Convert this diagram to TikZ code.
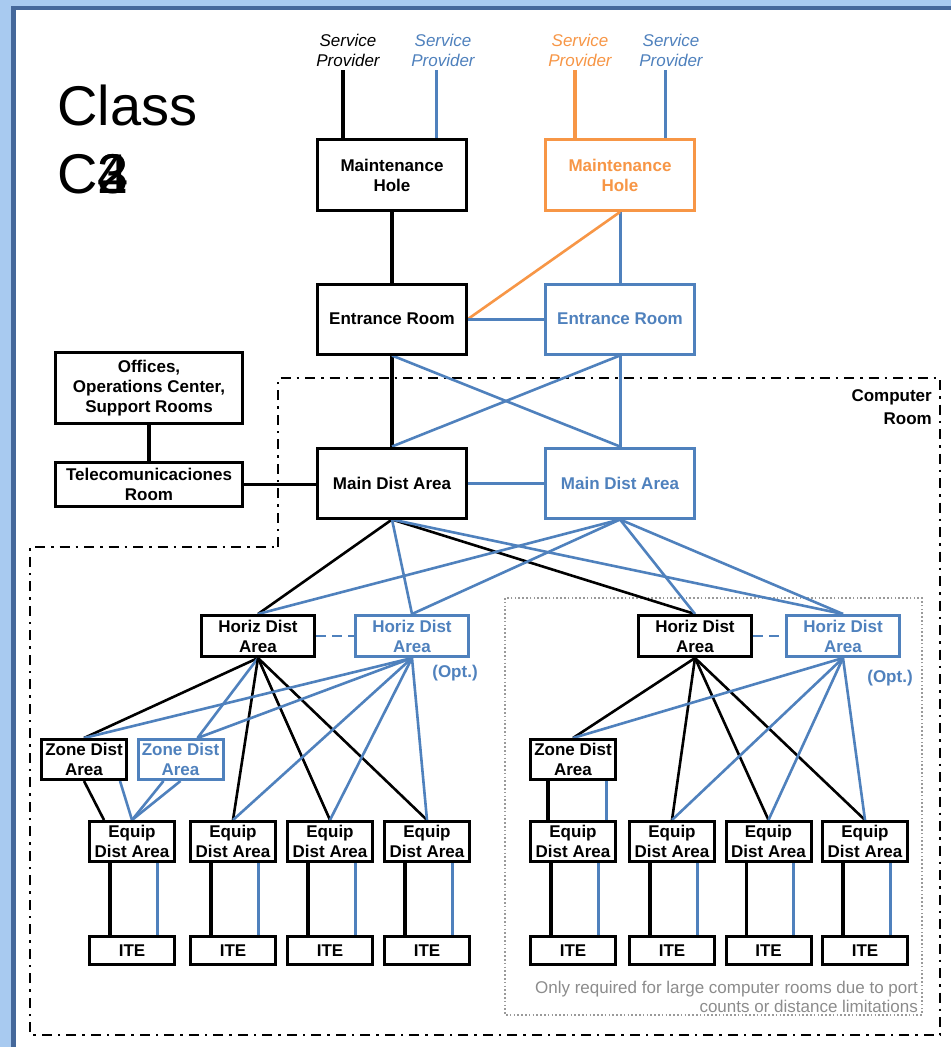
\documentclass[tikz,border=0pt]{standalone}
\usepackage{fontspec}
\setmainfont{Liberation Sans}
\usetikzlibrary{calc}
\definecolor{cblue}{HTML}{4F81BD}
\definecolor{corange}{HTML}{F79646}
\definecolor{fl}{HTML}{A8CAF0}
\definecolor{fd}{HTML}{45689B}
\definecolor{gtext}{HTML}{8C8C8C}
\definecolor{gline}{HTML}{9A9A9A}
\pgfdeclarelayer{bg}
\pgfsetlayers{bg,main}
\begin{document}
\begin{tikzpicture}[x=1pt,y=-1pt,
  box/.style={draw, line width=3pt, fill=white, font=\fontsize{17}{20}\selectfont\bfseries, align=center, inner sep=0pt},
  bbox/.style={box, draw=cblue, text=cblue},
  obox/.style={box, draw=corange, text=corange},
  big/.style={minimum width=149pt, minimum height=70pt},
  hda/.style={minimum width=113pt, minimum height=41pt},
  zda/.style={minimum width=85pt, minimum height=40pt},
  eda/.style={box, minimum width=85pt, minimum height=40pt},
  ite/.style={box, minimum width=85pt, minimum height=28pt},
  sp/.style={font=\fontsize{17}{20}\selectfont\itshape, align=center, inner sep=0pt},
  kl/.style={line width=2.6pt, black},
  bl/.style={line width=2.6pt, cblue},
  ol/.style={line width=2.6pt, corange},
  kv/.style={line width=3.2pt, black},
  bv/.style={line width=3pt, cblue},
  roomline/.style={line width=2.2pt, black, dash pattern=on 10pt off 6pt on 2.5pt off 6pt},
  optlbl/.style={font=\fontsize{17}{20}\selectfont\bfseries, text=cblue, inner sep=0pt}
]
\useasboundingbox (0,0) rectangle (951,1047);

% ---------- nodes ----------
\node[anchor=base west, font=\fontsize{56}{68}\selectfont, inner sep=0pt] (cls) at (57,125) {Class};
\node[anchor=base west, font=\fontsize{56}{68}\selectfont, inner sep=0pt] (cnum) at (57,193) {C\rlap{2}\rlap{3}4};

\node[sp] (sp1) at (348,50) {Service\\Provider};
\node[sp, text=cblue] (sp2) at (443,50) {Service\\Provider};
\node[sp, text=corange] (sp3) at (580,50) {Service\\Provider};
\node[sp, text=cblue] (sp4) at (671,50) {Service\\Provider};

\node[box, minimum width=149pt, minimum height=71pt] (mhB) at (392,175) {Maintenance\\Hole};
\node[obox, minimum width=149pt, minimum height=71pt] (mhO) at (620,175) {Maintenance\\Hole};
\node[box, big] (erB) at (392,319) {Entrance Room};
\node[bbox, big] (erL) at (620,319) {Entrance Room};
\node[box, big] (mdaB) at (392,483) {Main Dist Area};
\node[bbox, big] (mdaL) at (620,483) {Main Dist Area};

\node[box, minimum width=187pt, minimum height=71pt] (off) at (149,388) {Offices,\\Operations Center,\\Support Rooms};
\node[box, minimum width=187pt, minimum height=44pt] (tel) at (149,484.5) {Telecomunicaciones\\Room};

\node[font=\fontsize{17}{23}\selectfont\bfseries, align=right, anchor=north east, inner sep=0pt] (crl) at (932,389) {Computer\\Room};

\node[box, hda] (hdaB1) at (258,636) {Horiz Dist\\Area};
\node[bbox, hda] (hdaL1) at (412,636) {Horiz Dist\\Area};
\node[box, hda] (hdaB2) at (695,636) {Horiz Dist\\Area};
\node[bbox, hda] (hdaL2) at (843,636) {Horiz Dist\\Area};
\node[optlbl] (opt1) at (455,673) {(Opt.)};
\node[optlbl] (opt2) at (890,678) {(Opt.)};

\node[box, zda] (zdaB1) at (84,759.5) {Zone Dist\\Area};
\node[bbox, zda] (zdaL1) at (180.5,759.5) {Zone Dist\\Area};
\node[box, zda] (zdaB2) at (573,759.5) {Zone Dist\\Area};

\foreach \i/\x in {1/132,2/233,3/330,4/427,5/573,6/672,7/768.5,8/865}{
  \node[eda] (eda\i) at (\x,841.5) {Equip\\Dist Area};
  \node[ite] (ite\i) at (\x,950.5) {ITE};
}

\node[font=\fontsize{17}{19.5}\selectfont, text=gtext, align=right, anchor=south east, inner sep=0pt] (note) at (918,1013) {Only required for large computer rooms due to port\\counts or distance limitations};

% ---------- background: frame, boundaries, connectors ----------
\begin{pgfonlayer}{bg}
\fill[fl] (0,0) rectangle (951,1047);
\fill[fd] (11,6) rectangle (951,1047);
\fill[white] (16,10) rectangle (951,1047);

\draw[roomline] (278,547) -- (278,378) -- (940,378) -- (940,1035) -- (30,1035) -- (30,547) -- cycle;
\draw[gline, line width=1.6pt, dash pattern=on 1.6pt off 2.2pt] (505,598) rectangle (922,1015);

% service providers
\path (sp1.south) ++(-5,4) coordinate (s1);
\path (sp2.south) ++(-7,4) coordinate (s2);
\path (sp3.south) ++(-5,4) coordinate (s3);
\path (sp4.south) ++(-6,4) coordinate (s4);
\draw[kv] (s1) -- (s1 |- mhB.north);
\draw[bv] (s2) -- (s2 |- mhB.north);
\draw[corange, line width=3.2pt] (s3) -- (s3 |- mhO.north);
\draw[bv] (s4) -- (s4 |- mhO.north);

% maintenance -> entrance
\draw[kv] (mhB.south) -- (erB.north);
\draw[bv] (mhO.south) -- (erL.north);
\draw[ol] (mhO.south) -- (erB.east);
\draw[bv] (erB.east) -- (erL.west);

% entrance -> main dist
\draw[kv] (erB.south) -- (mdaB.north);
\draw[bv] (erL.south) -- (mdaL.north);
\draw[bl] (erB.south) -- (mdaL.north);
\draw[bl] (erL.south) -- (mdaB.north);
\draw[bv] (mdaB.east) -- (mdaL.west);

% offices / telecom
\draw[kv] (off.south) -- (tel.north);
\draw[kv] (tel.east) -- (tel.east -| mdaB.west);

% main dist -> horiz dist
\draw[kl] (mdaB.south) -- (hdaB1.north);
\draw[kl] (mdaB.south) -- (hdaB2.north);
\draw[bl] (mdaB.south) -- (hdaL1.north);
\draw[bl] (mdaB.south) -- (hdaL2.north);
\draw[bl] (mdaL.south) -- (hdaB1.north);
\draw[bl] (mdaL.south) -- (hdaL1.north);
\draw[bl] (mdaL.south) -- (hdaB2.north);
\draw[bl] (mdaL.south) -- (hdaL2.north);

% optional links
\draw[bl, dash pattern=on 10pt off 6pt] (hdaB1.east) -- (hdaL1.west);
\draw[bl, dash pattern=on 10pt off 6pt] (hdaB2.east) -- (hdaL2.west);

% left group
\coordinate (zl) at ([xshift=17pt]zdaL1.north);
\draw[kl] (hdaB1.south) -- (zdaB1.north);
\draw[bl] (hdaB1.south) -- (zl);
\draw[kl] (hdaB1.south) -- (eda2.north);
\draw[kl] (hdaB1.south) -- (eda3.north);
\draw[kl] (hdaB1.south) -- (eda4.north);
\draw[bl] (hdaL1.south) -- (zdaB1.north);
\draw[bl] (hdaL1.south) -- (zl);
\draw[bl] (hdaL1.south) -- (eda2.north);
\draw[bl] (hdaL1.south) -- (eda3.north);
\draw[bl] (hdaL1.south) -- (eda4.north);
\draw[kl] (zdaB1.south) -- ([xshift=-28pt]eda1.north);
\draw[bl] ([xshift=36pt]zdaB1.south) -- (eda1.north);
\draw[bl] ([xshift=-17pt]zdaL1.south) -- (eda1.north);
\draw[bl] (zdaL1.south) -- (eda1.north);

% right group
\draw[kl] (hdaB2.south) -- (zdaB2.north);
\draw[kl] (hdaB2.south) -- (eda6.north);
\draw[kl] (hdaB2.south) -- (eda7.north);
\draw[kl] (hdaB2.south) -- (eda8.north);
\draw[bl] (hdaL2.south) -- (zdaB2.north);
\draw[bl] (hdaL2.south) -- (eda6.north);
\draw[bl] (hdaL2.south) -- (eda7.north);
\draw[bl] (hdaL2.south) -- (eda8.north);
\draw[kv] ([xshift=-25pt]zdaB2.south) -- ([xshift=-25pt]eda5.north);
\draw[bv] ([xshift=33pt]zdaB2.south) -- ([xshift=33pt]eda5.north);

% equip -> ITE
\foreach \i in {1,...,8}{
  \draw[kv] ([xshift=-22pt]eda\i.south) -- ([xshift=-22pt]ite\i.north);
  \draw[bv] ([xshift=25pt]eda\i.south) -- ([xshift=25pt]ite\i.north);
}
\end{pgfonlayer}
\end{tikzpicture}
\end{document}
